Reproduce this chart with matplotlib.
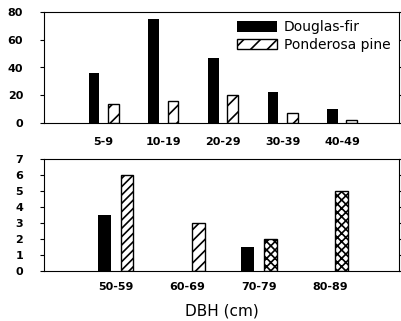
import matplotlib
matplotlib.use("Agg")
import matplotlib.pyplot as plt
import numpy as np

plt.rcParams['font.family'] = ['DejaVu Sans']
plt.rcParams['hatch.linewidth'] = 1.2

top_cats = ["5-9", "10-19", "20-29", "30-39", "40-49"]
top_df = [36, 75, 47, 22, 10]
top_pp = [14, 16, 20, 7, 2]
bot_cats = ["50-59", "60-69", "70-79", "80-89"]
bot_df = [3.5, 0, 1.5, 0]
bot_pp = [6, 3, 2, 5]
bot_hatch = ['////', '///', 'xxxx', 'xxxx']

fig = plt.figure(figsize=(4.02, 3.21), dpi=100)
W, H = 402, 321
ax1 = fig.add_axes([44/W, 1-123/H, 355/W, 111/H])
ax2 = fig.add_axes([44/W, 1-271/H, 355/W, 112/H])

bw = 0.18
off = 0.16
x1 = np.arange(len(top_cats))
ax1.bar(x1-off, top_df, bw, color='black', linewidth=0, label='Douglas-fir')
ax1.bar(x1+off, top_pp, bw, color='white', edgecolor='black', hatch='//', linewidth=1.0, label='Ponderosa pine')
ax1.set_xlim(-1, 4.95)
ax1.set_ylim(0, 80)
ax1.set_yticks([0, 20, 40, 60, 80])
ax1.set_xticks(x1)
ax1.set_xticklabels(top_cats)
leg = ax1.legend(loc='upper right', frameon=False, fontsize=10, handlelength=2.9,
                 handleheight=0.75, borderaxespad=0.2, labelspacing=0.25, handletextpad=0.5)

x2 = np.arange(len(bot_cats))
ax2.bar(x2-off, bot_df, bw, color='black', linewidth=0)
for xi, v, h in zip(x2, bot_pp, bot_hatch):
    ax2.bar(xi+off, v, bw, color='white', edgecolor='black', hatch=h, linewidth=1.0)
ax2.set_xlim(-1, 3.96)
ax2.set_ylim(0, 7)
ax2.set_yticks(range(0, 8))
ax2.set_xticks(x2)
ax2.set_xticklabels(bot_cats)
ax2.set_xlabel("DBH (cm)", fontsize=11, labelpad=8)

for ax in (ax1, ax2):
    for s in ax.spines.values():
        s.set_linewidth(0.8)
    ax.tick_params(axis='y', direction='out', length=3, width=0.8, pad=12, labelsize=8, right=True)
    for t in ax.get_yticklabels() + ax.get_xticklabels():
        t.set_fontweight('bold')
ax1.tick_params(axis='x', length=0, pad=10, labelsize=8)
ax2.tick_params(axis='x', length=0, pad=8, labelsize=8)

fig.savefig("out.png", dpi=100)
